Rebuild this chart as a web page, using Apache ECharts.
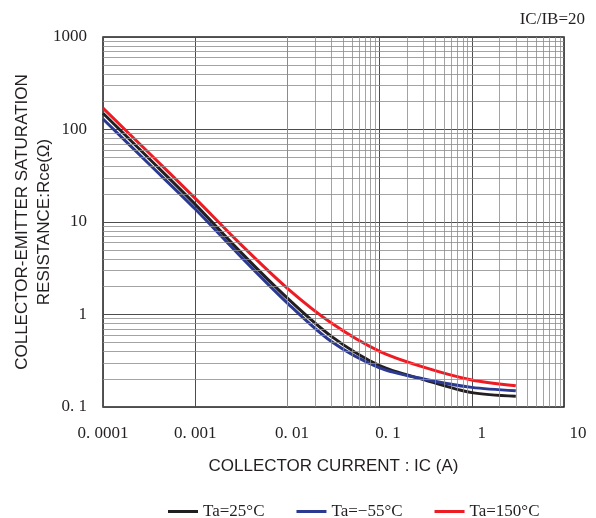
<!DOCTYPE html>
<html>
<head>
<meta charset="utf-8">
<script src="https://cdn.jsdelivr.net/npm/echarts@6/dist/echarts.min.js"></script>
<style>
  html, body { margin: 0; padding: 0; background: #fff; }
  #chart { width: 596px; height: 518px; }
</style>
</head>
<body>
<div id="chart"></div>
<script>
// collector current (A)
const currents = [0.0001, 0.0003, 0.001, 0.003, 0.01, 0.03, 0.1, 0.3, 1, 3];
// Rce (ohm) per temperature
const rce25 = [150, 51, 15.5, 4.9, 1.5, 0.58, 0.28, 0.198, 0.143, 0.131];
const rceM55 = [130, 44.5, 13.8, 4.4, 1.33, 0.51, 0.265, 0.201, 0.163, 0.15];
const rce150 = [170, 58.5, 18, 5.95, 1.92, 0.81, 0.4, 0.27, 0.196, 0.17];

const seriesNames = ['Ta=25°C', 'Ta=−55°C', 'Ta=150°C'];
const seriesColors = ['#231f20', '#2b3990', '#ed1c24'];

const xTickLabels = ['0. 0001', '0. 001', '0. 01', '0. 1', '1', '10'];
const yTickLabels = ['0. 1', '1', '10', '100', '1000'];
const xDecades = [0.0001, 0.001, 0.01, 0.1, 1];
const yDecades = [0.1, 1, 10, 100];

const font = 'Liberation Serif';
const sans = 'Liberation Sans';
const ink = '#231f20';

// minor grid lines at 2..9 of each decade
const minorLines = [];
xDecades.forEach((d) => {
  for (let k = 2; k <= 9; k++) minorLines.push({ xAxis: d * k });
});
yDecades.forEach((d) => {
  for (let k = 2; k <= 9; k++) minorLines.push({ yAxis: d * k });
});

const pair = (ys) => currents.map((x, i) => [x, ys[i]]);

// small per-label shift, the source labels drift right
const xShift = [0, 0, 9, 17, 20, 28];
const xRich = {};
xShift.forEach((p, i) => {
  xRich['l' + i] = { fontFamily: font, fontSize: 17, color: ink, padding: [0, 0, 0, p] };
});

const chart = echarts.init(document.getElementById('chart'), null, { renderer: 'canvas' });

chart.setOption({
  animation: false,
  backgroundColor: '#fff',
  title: {
    text: 'IC/IB=20',
    right: 6,
    top: 6,
    textStyle: { fontFamily: font, fontSize: 17, fontWeight: 'normal', color: ink },
  },
  legend: {
    left: 163,
    top: 498,
    itemWidth: 30,
    itemHeight: 3,
    itemGap: 32,
    textStyle: { fontFamily: font, fontSize: 17, color: ink },
    data: seriesNames.map((n) => ({ name: n, icon: 'rect' })),
  },
  grid: {
    left: 103,
    top: 37,
    width: 461,
    height: 370,
    outerBoundsMode: 'none',
    containLabel: false,
    show: true,
    borderColor: ink,
    borderWidth: 1.5,
  },
  xAxis: {
    type: 'log',
    logBase: 10,
    min: 0.0001,
    max: 10,
    name: 'COLLECTOR CURRENT : IC (A)',
    nameLocation: 'middle',
    nameGap: 51,
    nameMoveOverlap: false,
    nameTextStyle: { fontFamily: sans, fontSize: 17, color: ink },
    axisLine: { show: false },
    axisTick: { show: false },
    axisLabel: {
      margin: 18,
      formatter: (v) => {
        const i = Math.round(Math.log10(v)) + 4;
        return '{l' + i + '|' + xTickLabels[i] + '}';
      },
      rich: xRich,
    },
    splitLine: { show: true, lineStyle: { color: '#4d4d4d', width: 1 } },
  },
  yAxis: {
    type: 'log',
    logBase: 10,
    min: 0.1,
    max: 1000,
    name: 'COLLECTOR-EMITTER SATURATION\nRESISTANCE:Rce(Ω)',
    nameLocation: 'middle',
    nameRotate: 90,
    nameGap: 48,
    nameMoveOverlap: false,
    nameTextStyle: { fontFamily: sans, fontSize: 17, color: ink, lineHeight: 22 },
    axisLine: { show: false },
    axisTick: { show: false },
    axisLabel: {
      margin: 16,
      fontFamily: font,
      fontSize: 17,
      color: ink,
      formatter: (v) => yTickLabels[Math.round(Math.log10(v)) + 1],
    },
    splitLine: { show: true, lineStyle: { color: '#4d4d4d', width: 1 } },
  },
  series: [
    {
      name: 'minor',
      type: 'line',
      data: [],
      z: 1,
      silent: true,
      markLine: {
        silent: true,
        symbol: ['none', 'none'],
        label: { show: false },
        lineStyle: { color: '#8c8c8c', width: 0.8, type: 'solid' },
        emphasis: { disabled: true },
        data: minorLines,
      },
    },
    ...[rce25, rceM55, rce150].map((ys, i) => ({
      name: seriesNames[i],
      type: 'line',
      data: pair(ys),
      smooth: 0.3,
      showSymbol: false,
      z: 3,
      lineStyle: { color: seriesColors[i], width: 3 },
      itemStyle: { color: seriesColors[i] },
    })),
  ],
});
</script>
</body>
</html>
